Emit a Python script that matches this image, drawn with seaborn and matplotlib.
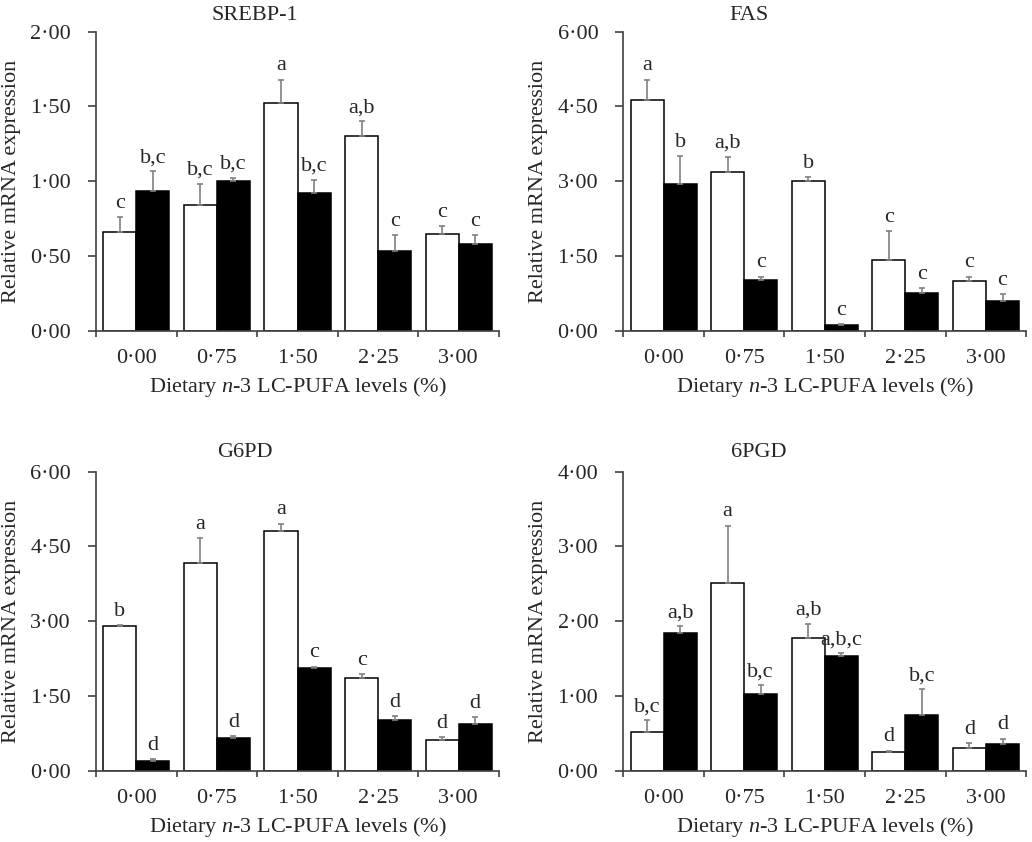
import numpy as np
import pandas as pd
import matplotlib
matplotlib.use('Agg')
import matplotlib.pyplot as plt
import seaborn as sns

# níveis de n-3 LC-PUFA na dieta (%)
levels = ['0·00', '0·75', '1·50', '2·25', '3·00']
groups = ['white', 'black']

# SREBP-1
srebp_white = [0.66, 0.84, 1.52, 1.30, 0.65]
srebp_white_err = [0.10, 0.14, 0.16, 0.10, 0.05]
srebp_black = [0.935, 1.00, 0.92, 0.53, 0.58]
srebp_black_err = [0.13, 0.02, 0.09, 0.11, 0.06]
srebp_white_sig = ['c', 'b,c', 'a', 'a,b', 'c']
srebp_black_sig = ['b,c', 'b,c', 'b,c', 'c', 'c']

# FAS
fas_white = [4.63, 3.18, 3.01, 1.42, 0.995]
fas_white_err = [0.41, 0.31, 0.08, 0.58, 0.09]
fas_black = [2.95, 1.015, 0.12, 0.755, 0.59]
fas_black_err = [0.55, 0.07, 0.01, 0.10, 0.15]
fas_white_sig = ['a', 'a,b', 'b', 'c', 'c']
fas_black_sig = ['b', 'c', 'c', 'c', 'c']

# G6PD
g6pd_white = [2.91, 4.17, 4.82, 1.87, 0.62]
g6pd_white_err = [0.01, 0.49, 0.14, 0.07, 0.06]
g6pd_black = [0.20, 0.66, 2.07, 1.02, 0.93]
g6pd_black_err = [0.04, 0.03, 0.02, 0.08, 0.15]
g6pd_white_sig = ['b', 'a', 'a', 'c', 'd']
g6pd_black_sig = ['d', 'd', 'c', 'd', 'd']

# 6PGD
pgd_white = [0.52, 2.51, 1.775, 0.255, 0.31]
pgd_white_err = [0.155, 0.77, 0.19, 0.015, 0.055]
pgd_black = [1.846, 1.02, 1.534, 0.74, 0.36]
pgd_black_err = [0.085, 0.12, 0.035, 0.35, 0.07]
pgd_white_sig = ['b,c', 'a', 'a,b', 'd', 'd']
pgd_black_sig = ['a,b', 'b,c', 'a,b,c', 'b,c', 'd']

yticks_2 = [0, 0.5, 1.0, 1.5, 2.0]
yticklabels_2 = ['0·00', '0·50', '1·00', '1·50', '2·00']
yticks_6 = [0, 1.5, 3.0, 4.5, 6.0]
yticklabels_6 = ['0·00', '1·50', '3·00', '4·50', '6·00']
yticks_4 = [0, 1.0, 2.0, 3.0, 4.0]
yticklabels_4 = ['0·00', '1·00', '2·00', '3·00', '4·00']

sns.set_style('ticks')
plt.rcParams['font.family'] = ['Liberation Serif', 'DejaVu Serif']
plt.rcParams['font.size'] = 16
plt.rcParams['mathtext.fontset'] = 'custom'
plt.rcParams['mathtext.rm'] = 'Liberation Serif'
plt.rcParams['mathtext.it'] = 'Liberation Serif:italic'

axis_col = '#404040'
err_col = '#808080'

fig = plt.figure(figsize=(10.32, 8.42), dpi=100)
W, H = 1032, 842

paineis = [
    ('SREBP-1', srebp_white, srebp_white_err, srebp_black, srebp_black_err,
     srebp_white_sig, srebp_black_sig, yticks_2, yticklabels_2, (96, 31.7), 0.395, 8.4),
    ('FAS', fas_white, fas_white_err, fas_black, fas_black_err,
     fas_white_sig, fas_black_sig, yticks_6, yticklabels_6, (623.3, 31.7), 0.313, 8.4),
    ('G6PD', g6pd_white, g6pd_white_err, g6pd_black, g6pd_black_err,
     g6pd_white_sig, g6pd_black_sig, yticks_6, yticklabels_6, (96, 471.7), 0.37, 10.6),
    ('6PGD', pgd_white, pgd_white_err, pgd_black, pgd_black_err,
     pgd_white_sig, pgd_black_sig, yticks_4, yticklabels_4, (623.3, 471.7), 0.337, 10.6),
]

for (nome, vb, eb, vp, ep, sb, sp, yt, ytl, (x0, y0), tx, tpad) in paineis:
    ax = fig.add_axes([x0 / W, 1 - (y0 + 299) / H, 403 / W, 299 / H])
    df = pd.DataFrame({
        'level': levels * 2,
        'group': [groups[0]] * 5 + [groups[1]] * 5,
        'value': vb + vp,
    })
    sns.barplot(data=df, x='level', y='value', hue='group', order=levels,
                hue_order=groups, palette=['white', 'black'], edgecolor='black',
                linewidth=1.1, width=0.82, errorbar=None, legend=False, ax=ax)

    # barras de erro (só para cima) e letras de significância
    for cont, errs, sigs in zip(ax.containers, [eb, ep], [sb, sp]):
        for bar, e, s in zip(cont, errs, sigs):
            x = bar.get_x() + bar.get_width() / 2
            h = bar.get_height()
            ax.errorbar(x, h, yerr=[[0], [e]], fmt='none', ecolor=err_col,
                        elinewidth=1.2, capsize=2.5, capthick=1.2, zorder=1)
            ax.annotate(s, (x, h + e), xytext=(0, 3), textcoords='offset points',
                        ha='center', va='bottom', fontsize=16)

    ax.set_xlim(-0.5, 4.5)
    ax.set_ylim(yt[0], yt[-1])
    ax.set_yticks(yt)
    ax.set_yticklabels(ytl)
    ax.set_xticks(range(5))
    ax.set_xticklabels(levels)
    ax.set_xticks(np.arange(-0.5, 5, 1), minor=True)
    ax.tick_params(axis='x', which='major', length=0, pad=13, labelsize=16)
    ax.tick_params(axis='x', which='minor', length=4.5, width=1.2, color=axis_col)
    ax.tick_params(axis='y', length=6, width=1.2, color=axis_col, pad=12, labelsize=16)

    sns.despine(ax=ax)
    for sp_name in ['left', 'bottom']:
        ax.spines[sp_name].set_color(axis_col)
        ax.spines[sp_name].set_linewidth(1.2)

    ax.set_ylabel('Relative mRNA expression', fontsize=16)
    ax.yaxis.set_label_coords(-0.186, 0.5)
    ax.set_xlabel(r'Dietary $\mathit{n}$-3 LC-PUFA levels (%)', fontsize=16)
    ax.xaxis.set_label_coords(0.5, -0.148)
    ax.set_title(nome, fontsize=16, x=tx, pad=tpad)

plt.savefig('out.png', dpi=100)
